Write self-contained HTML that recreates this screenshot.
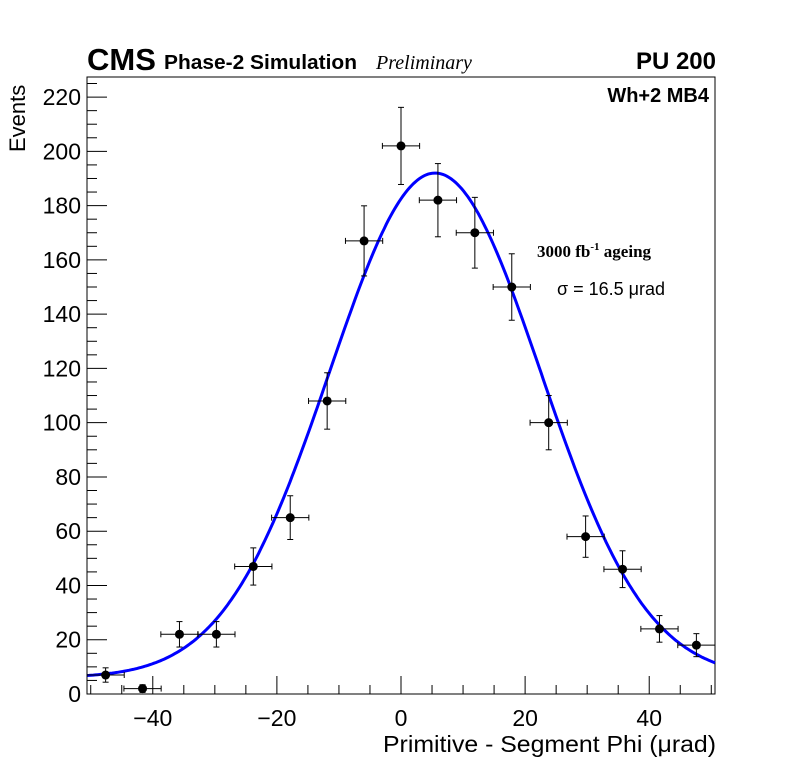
<!DOCTYPE html>
<html><head><meta charset="utf-8"><style>
body{margin:0;background:#fff}
svg{display:block;font-family:"Liberation Sans",sans-serif}
</style></head><body>
<svg id="chart" width="796" height="772" viewBox="0 0 796 772">
<rect width="796" height="772" fill="#fff"/>
<g id="axes"></g>
<g id="marks"></g>
<text x="87" y="70" font-size="31" font-weight="bold">CMS</text>
<text x="164" y="69" font-size="20" font-weight="bold" textLength="193" lengthAdjust="spacingAndGlyphs">Phase-2 Simulation</text>
<text x="376" y="69" font-size="20" font-style="italic" font-family="Liberation Serif, serif">Preliminary</text>
<text x="716" y="69" font-size="24" font-weight="bold" text-anchor="end">PU 200</text>
<text x="709" y="102" font-size="20" font-weight="bold" text-anchor="end">Wh+2 MB4</text>
<text x="537" y="257" font-size="17" font-weight="bold" font-family="Liberation Serif, serif">3000 fb<tspan font-size="11" dy="-7">-1</tspan><tspan dy="7"> ageing</tspan></text>
<text x="557" y="295" font-size="18">σ = 16.5 μrad</text>
<text transform="translate(25,152) rotate(-90)" font-size="22">Events</text>
<text x="716" y="752" font-size="23" text-anchor="end" textLength="333" lengthAdjust="spacingAndGlyphs">Primitive - Segment Phi (μrad)</text>
</svg>
<script>
const binCenters=[-47.6,-41.65,-35.7,-29.75,-23.8,-17.85,-11.9,-5.95,0,5.95,11.9,17.85,23.8,29.75,35.7,41.65,47.6];
const counts=[7,2,22,22,47,65,108,167,202,182,170,150,100,58,46,24,18];
const fitAmp=186, fitMean=5.5, fitSigma=17, fitConst=6;
const xTicks=[-40,-20,0,20,40];
const yTicks=[0,20,40,60,80,100,120,140,160,180,200,220];
const X0=87,X1=715,Y0=694,Y1=77,xmin=-50.6,xmax=50.6,ymin=0,ymax=227.4;
const sx=v=>X0+(v-xmin)/(xmax-xmin)*(X1-X0);
const sy=v=>Y0-(v-ymin)/(ymax-ymin)*(Y0-Y1);
const NS='http://www.w3.org/2000/svg';
function mk(tag,attrs,parent){const e=document.createElementNS(NS,tag);for(const k in attrs)e.setAttribute(k,attrs[k]);parent.appendChild(e);return e;}
const ax=document.getElementById('axes'),mg=document.getElementById('marks');
const frame=mk('rect',{x:X0,y:Y1,width:X1-X0,height:Y0-Y1,fill:'none',stroke:'#000','stroke-width':1},ax);


for(let v=-50;v<=50;v+=5){const big=v%20===0;const x=sx(v);
 mk('line',{x1:x,x2:x,y1:Y0,y2:Y0-(big?18:9),stroke:'#000'},ax);}
xTicks.forEach(v=>{const t=mk('text',{x:sx(v),y:726,'font-size':23,'text-anchor':'middle'},ax);t.textContent=v<0?'\u2212'+(-v):String(v);
 
 });
for(let v=0;v<=225;v+=5){const big=v%20===0;const y=sy(v);
 mk('line',{x1:X0,x2:X0+(big?20:10),y1:y,y2:y,stroke:'#000'},ax);}
yTicks.forEach(v=>{const t=mk('text',{x:81,y:sy(v)+8,'font-size':23,'text-anchor':'end'},ax);t.textContent=String(v);
 
 });
let d='';for(let i=0;i<=300;i++){const v=xmin+(xmax-xmin)*i/300;const f=fitConst+fitAmp*Math.exp(-((v-fitMean)*(v-fitMean))/(2*fitSigma*fitSigma));d+=(i?'L':'M')+sx(v).toFixed(1)+','+sy(f).toFixed(1);}
const curve=mk('path',{d:d,fill:'none',stroke:'#0000ff','stroke-width':3},mg);


binCenters.forEach((c,i)=>{const n=counts[i],e=Math.sqrt(n);const g=mk('g',{},mg);
 
 
 const x=sx(c),y=sy(n);
 mk('line',{x1:Math.max(sx(c-3),X0),x2:Math.min(sx(c+3),X1),y1:y,y2:y,stroke:'#000'},g);
 mk('line',{x1:x,x2:x,y1:sy(n+e),y2:Math.min(sy(n-e),Y0),stroke:'#000'},g);
 [sx(c-3),sx(c+3)].forEach(xx=>{if(xx>=X0&&xx<=X1)mk('line',{x1:xx,x2:xx,y1:y-3,y2:y+3,stroke:'#000'},g);});
 [sy(n+e),sy(n-e)].forEach(yy=>{if(yy<=Y0)mk('line',{x1:x-3,x2:x+3,y1:yy,y2:yy,stroke:'#000'},g);});
 mk('circle',{cx:x,cy:y,r:4.5,fill:'#000'},g);});
</script>
</body></html>
